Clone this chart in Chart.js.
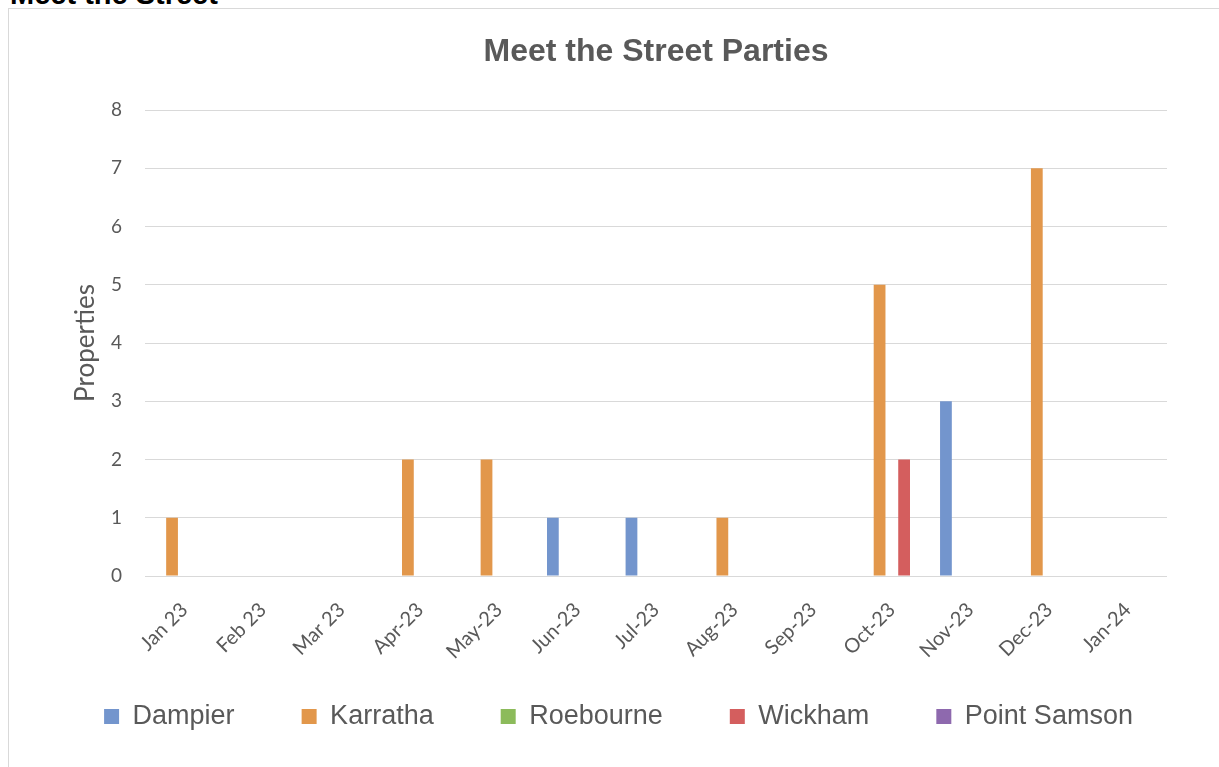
<!DOCTYPE html>
<html lang="en">
<head>
<meta charset="UTF-8">
<title>Meet the Street Parties</title>
<script src="https://cdn.jsdelivr.net/npm/chart.js@4.4.1/dist/chart.umd.min.js"></script>
<style>
  html, body { margin: 0; padding: 0; background: #fff; overflow: hidden; }
  #heading {
    position: absolute; left: 10px; top: -20px; margin: 0;
    font: bold 29px/29px "Liberation Sans", Arial, sans-serif; color: #000;
  }
  #frame {
    position: absolute; left: 8px; top: 8px; width: 1300px; height: 900px;
    border: 1px solid #d9d9d9;
  }
  #wrap { position: absolute; left: 9px; top: 9px; width: 1210px; height: 731px; }
</style>
</head>
<body>
<div id="heading">Meet the Street</div>
<div id="frame"></div>
<div id="wrap"><canvas id="partyChart"></canvas></div>
<script>

// months shown on the x axis
var months = ['Jan 23', 'Feb 23', 'Mar 23', 'Apr-23', 'May-23', 'Jun-23', 'Jul-23',
              'Aug-23', 'Sep-23', 'Oct-23', 'Nov-23', 'Dec-23', 'Jan-24'];

// properties per town
var dampier     = [0, 0, 0, 0, 0, 1, 1, 0, 0, 0, 3, 0, 0];
var karratha    = [1, 0, 0, 2, 2, 0, 0, 1, 0, 5, 0, 7, 0];
var roebourne   = [0, 0, 0, 0, 0, 0, 0, 0, 0, 0, 0, 0, 0];
var wickham     = [0, 0, 0, 0, 0, 0, 0, 0, 0, 2, 0, 0, 0];
var pointSamson = [0, 0, 0, 0, 0, 0, 0, 0, 0, 0, 0, 0, 0];

var yTicks = [0, 1, 2, 3, 4, 5, 6, 7, 8];

var textGrey = '#595959';
var gridGrey = '#d9d9d9';
// excel spaces the legend entries widely, pad the label text to match
var legendGap = '        ';

function series(label, data, colour) {
  return {
    label: label,
    data: data,
    backgroundColor: colour,
    borderWidth: 0,
    categoryPercentage: 0.78,
    barPercentage: 0.96
  };
}

var config = {
  type: 'bar',
  data: {
    labels: months,
    datasets: [
      series('Dampier', dampier, '#7395cd'),
      series('Karratha', karratha, '#e2974b'),
      series('Roebourne', roebourne, '#8cbb5b'),
      series('Wickham', wickham, '#d45e5e'),
      series('Point Samson', pointSamson, '#8e69ae')
    ]
  },
  options: {
    responsive: true,
    maintainAspectRatio: false,
    animation: false,
    layout: { padding: { left: 61, right: 52, top: 0, bottom: 0 } },
    scales: {
      x: {
        grid: { display: false },
        border: { display: false },
        ticks: {
          color: textGrey,
          font: { family: 'Lato', size: 20 },
          minRotation: 45,
          maxRotation: 45,
          padding: 14
        },
        afterFit: function(scale) { scale.height = 120; }
      },
      y: {
        min: 0,
        max: 8,
        afterBuildTicks: function(scale) {
          scale.ticks = yTicks.map(function(v) { return { value: v }; });
        },
        grid: { color: gridGrey, lineWidth: 1, drawTicks: false },
        border: { display: false },
        ticks: {
          color: textGrey,
          font: { family: 'Lato', size: 19 },
          padding: 23
        },
        title: {
          display: true,
          text: 'Properties',
          color: textGrey,
          font: { family: 'Lato', size: 26 },
          padding: { top: 0, bottom: 0 }
        },
        afterFit: function(scale) { scale.width = 75; }
      }
    },
    plugins: {
      title: {
        display: true,
        text: 'Meet the Street Parties',
        fullSize: false,
        color: textGrey,
        font: { family: '"Liberation Sans", Arial, sans-serif', size: 32, weight: 'bold', lineHeight: 1.2 },
        padding: { top: 24, bottom: 38.6 }
      },
      legend: {
        position: 'bottom',
        align: 'center',
        labels: {
          color: textGrey,
          font: { family: '"Liberation Sans", Arial, sans-serif', size: 27 },
          boxWidth: 15,
          boxHeight: 15,
          padding: 7,
          generateLabels: function(chart) {
            var items = Chart.defaults.plugins.legend.labels.generateLabels(chart);
            items.forEach(function(item, i) {
              if (i < items.length - 1) item.text = item.text + legendGap;
            });
            return items;
          }
        }
      },
      tooltip: { enabled: false }
    }
  }
};

window.onload = function() {
  var ctx = document.getElementById('partyChart').getContext('2d');
  window.myChart = new Chart(ctx, config);
};
</script>
</body>
</html>
